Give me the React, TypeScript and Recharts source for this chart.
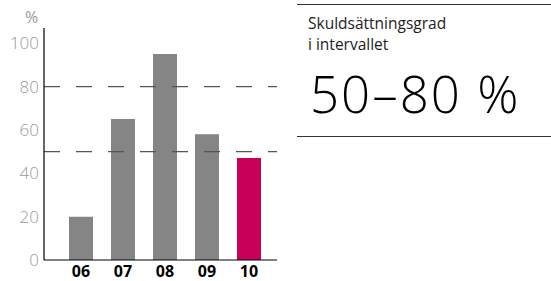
import React from 'react';
import { BarChart, Bar, XAxis, YAxis, Cell, ReferenceLine } from 'recharts';

const years = ['06', '07', '08', '09', '10'];
const ratio = [20, 65, 95, 58, 47];
const yTicks = [0, 20, 40, 60, 80, 100];
const band = [50, 80];

const data = years.map((year, i) => ({ year, value: ratio[i] }));

const font = '"Open Sans", "DejaVu Sans", sans-serif';

export default function App() {
  return (
    <div style={{ position: 'absolute', left: 0, top: 0, width: 551, height: 281, background: '#fff', fontFamily: font }}>
      <div style={{ position: 'absolute', left: 25, top: 6, fontSize: 16, color: '#999' }}>%</div>
      <BarChart width={290} height={281} data={data} margin={{ top: 28, right: 13, left: 0, bottom: 0 }}>
        <XAxis
          dataKey="year"
          height={21}
          padding={{ left: 16, right: 7 }}
          tickSize={0}
          tickMargin={6}
          axisLine={{ stroke: '#000', strokeWidth: 1 }}
          tickLine={false}
          tick={{ fill: '#000', fontSize: 16, fontWeight: 700, fontFamily: font }}
        />
        <YAxis
          width={44}
          domain={[0, 107]}
          ticks={yTicks}
          tickSize={0}
          tickMargin={5}
          axisLine={{ stroke: '#000', strokeWidth: 1.2 }}
          tickLine={false}
          tick={{ fill: '#999', fontSize: 17, fontWeight: 300, fontFamily: font }}
        />
        <Bar dataKey="value" barSize={24} isAnimationActive={false}>
          {data.map((d, i) => (
            <Cell key={d.year} fill={i === data.length - 1 ? '#c8005a' : '#858585'} />
          ))}
        </Bar>
        {band.map((v) => (
          <ReferenceLine key={v} y={v} stroke="#555" strokeWidth={1.3} strokeDasharray="16 16" />
        ))}
      </BarChart>
      <div style={{ position: 'absolute', left: 297, right: 0, top: 4, borderTop: '1px solid #333' }} />
      <div style={{ position: 'absolute', left: 308, top: 13, fontSize: 15.5, lineHeight: '21px', color: '#222' }}>
        Skuldsättningsgrad
        <br />i intervallet
      </div>
      <div style={{ position: 'absolute', left: 310, top: 62, fontSize: 51, lineHeight: '62px', letterSpacing: 2, color: '#000', fontWeight: 300 }}>
        50–80 %
      </div>
      <div style={{ position: 'absolute', left: 297, right: 0, top: 136, borderTop: '1px solid #333' }} />
    </div>
  );
}
